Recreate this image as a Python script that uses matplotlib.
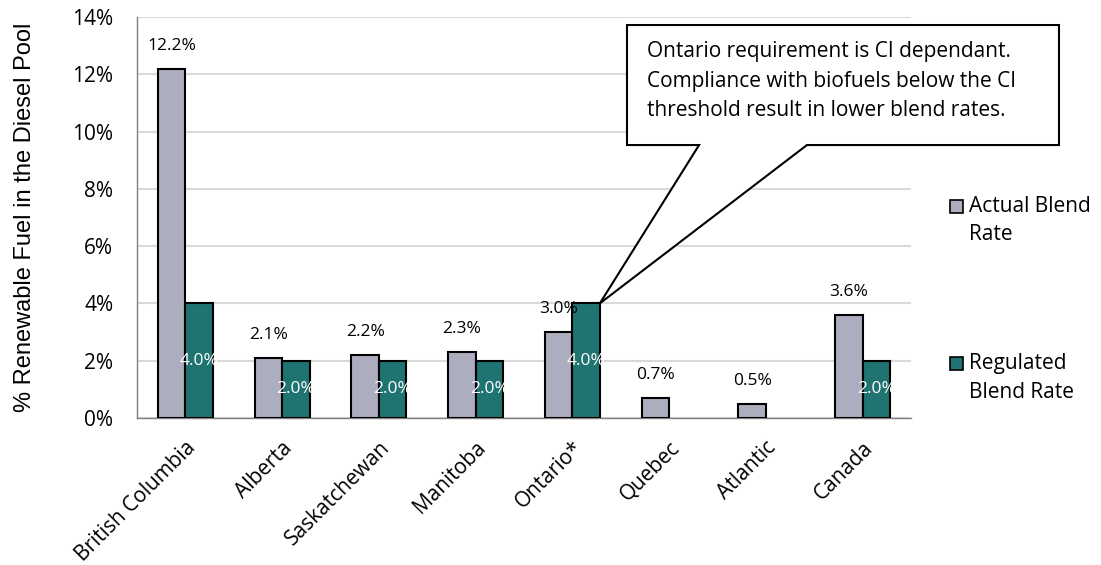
import numpy as np
import matplotlib.pyplot as plt
from matplotlib.patches import Polygon, Rectangle

# Blend rates by province (% renewable fuel in diesel pool)
provinces = ['British Columbia', 'Alberta', 'Saskatchewan', 'Manitoba',
             'Ontario*', 'Quebec', 'Atlantic', 'Canada']
actual = [12.2, 2.1, 2.2, 2.3, 3.0, 0.7, 0.5, 3.6]
regulated = [4.0, 2.0, 2.0, 2.0, 4.0, np.nan, np.nan, 2.0]

c_actual = '#adadc0'
c_reg = '#1f7370'
plt.rcParams['font.family'] = ['Open Sans', 'DejaVu Sans']

fig = plt.figure(figsize=(11.01, 5.65), dpi=100)
ax = fig.add_axes([0.1244, 0.2602, 0.703, 0.7097])

x = np.arange(len(provinces))
w = 0.284
b1 = ax.bar(x - w / 2, actual, w, color=c_actual, edgecolor='black', linewidth=1.5, zorder=3)
b2 = ax.bar(x + w / 2, regulated, w, color=c_reg, edgecolor='black', linewidth=1.5, zorder=3)

# value labels: black above the actual bars, white centred in the regulated bars
for rect, v in zip(b1, actual):
    ax.annotate(f'{v:.1f}%', (rect.get_x() + rect.get_width() / 2, v),
                xytext=(0, 16.5), textcoords='offset points', ha='center', va='center',
                fontsize=12.5, color='black', zorder=4)
for rect, v in zip(b2, regulated):
    if np.isnan(v):
        continue
    ax.text(rect.get_x() + rect.get_width() / 2, v / 2, f'{v:.1f}%',
            ha='center', va='center', fontsize=12.5, color='white', zorder=4)

ax.set_xlim(-0.5, len(provinces) - 0.5)
ax.set_ylim(0, 14)
ax.set_yticks(np.arange(0, 15, 2))
ax.set_yticklabels([f'{t}%' for t in range(0, 15, 2)], fontsize=15)
ax.set_xticks(x)
ax.set_xticklabels(provinces, rotation=45, ha='right', rotation_mode='anchor', fontsize=15)
ax.tick_params(axis='both', length=0)
ax.tick_params(axis='y', pad=17)
ax.tick_params(axis='x', pad=14)
ax.grid(axis='y', color='#d9d9d9', linewidth=1.5, zorder=0)
for s in ['top', 'right']:
    ax.spines[s].set_visible(False)
for s in ['left', 'bottom']:
    ax.spines[s].set_color('#7f7f7f')
    ax.spines[s].set_linewidth(1)
ax.set_ylabel('% Renewable Fuel in the Diesel Pool', fontsize=17,
              family=['Liberation Sans', 'DejaVu Sans'], labelpad=26)

# callout pointing at the Ontario regulated bar
tip = (x[4] + w, regulated[4])
bx0, bx1, by0, by1 = 4.565, 9.03, 9.53, 13.72
callout = Polygon([(bx0, by1), (bx1, by1), (bx1, by0), (6.425, by0), tip,
                   (5.31, by0), (bx0, by0)], closed=True, facecolor='white',
                  edgecolor='black', linewidth=1.5, clip_on=False, zorder=6)
ax.add_patch(callout)
ax.text(bx0 + 0.21, by1 - 0.55,
        'Ontario requirement is CI dependant.\nCompliance with biofuels below the CI\n'
        'threshold result in lower blend rates.',
        ha='left', va='top', fontsize=15, linespacing=1.55, zorder=7)

# legend drawn by hand so each square sits next to the first line of its label
legend_items = [(['Actual Blend', 'Rate'], c_actual, 206),
                (['Regulated', 'Blend Rate'], c_reg, 363)]
W, H = 1101, 565
for lines, col, ypx in legend_items:
    fig.patches.append(Rectangle((950 / W, 1 - (ypx + 6.5) / H), 13 / W, 13 / H,
                                 transform=fig.transFigure, facecolor=col,
                                 edgecolor='black', linewidth=1.2))
    for i, line in enumerate(lines):
        fig.text(969 / W, 1 - (ypx + 29 * i) / H, line, ha='left', va='center',
                 fontsize=15)

fig.savefig('out.png', dpi=100)
